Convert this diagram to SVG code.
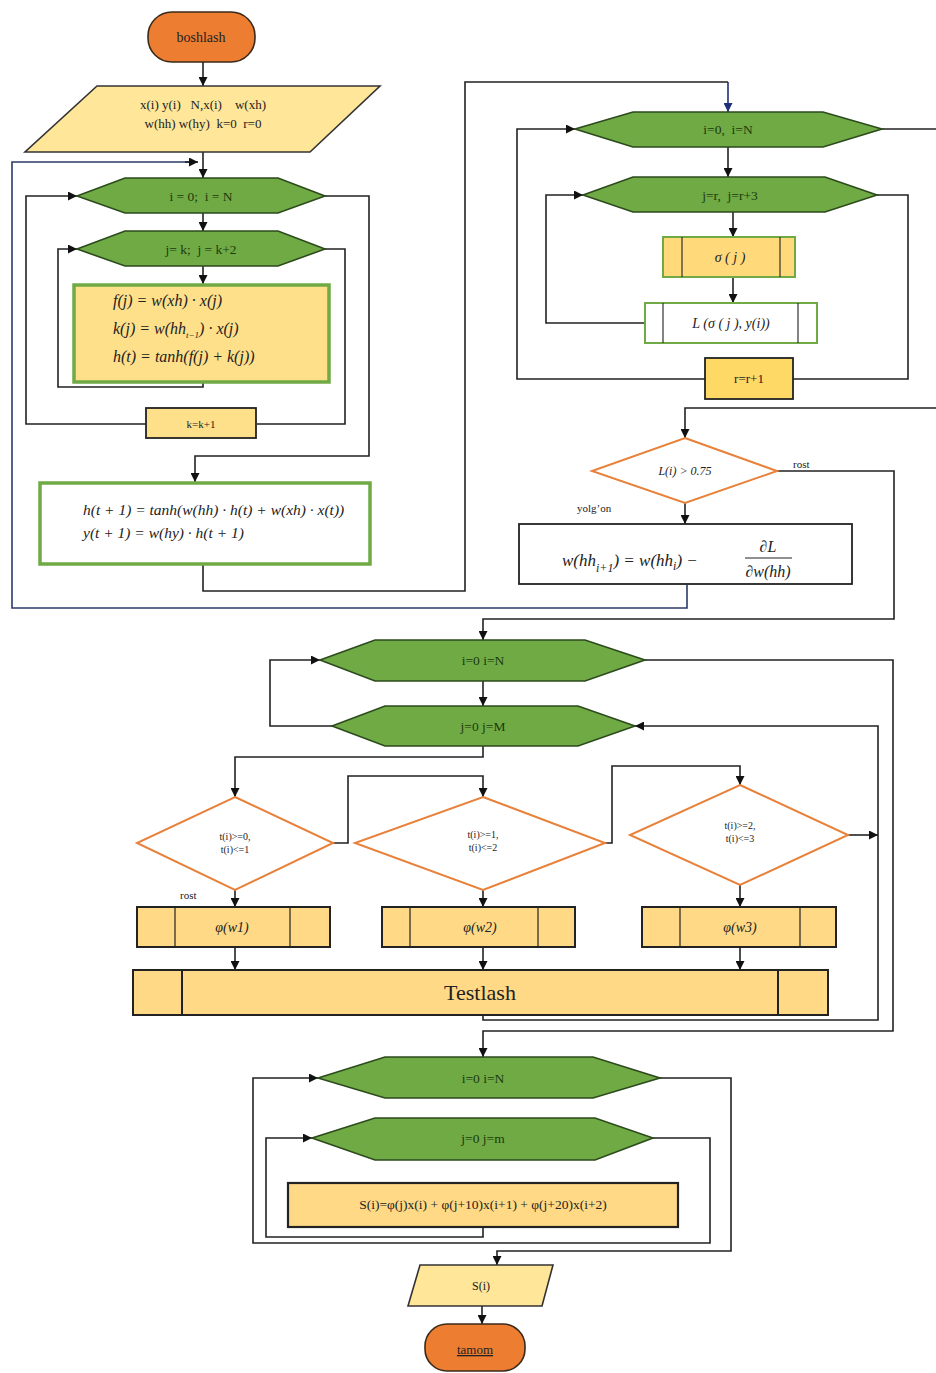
<svg xmlns="http://www.w3.org/2000/svg" width="936" height="1373" viewBox="0 0 936 1373">
<defs>
<marker id="ah" viewBox="0 0 10 10" refX="10" refY="5" markerWidth="9" markerHeight="9" markerUnits="userSpaceOnUse" orient="auto"><path d="M0,0 L10,5 L0,10 z" fill="#111"/></marker>
<marker id="ahb" viewBox="0 0 10 10" refX="10" refY="5" markerWidth="9" markerHeight="9" markerUnits="userSpaceOnUse" orient="auto"><path d="M0,0 L10,5 L0,10 z" fill="#1f2f7a"/></marker>
<style>
.c{fill:none;stroke:#222;stroke-width:1.6}
.ca{fill:none;stroke:#222;stroke-width:1.6;marker-end:url(#ah)}
.cb{fill:none;stroke:#2b3a68;stroke-width:1.6}
.term{fill:#ED7D31;stroke:#3a2a1a;stroke-width:1.6}
.io{fill:#FFE699;stroke:#333;stroke-width:1.6}
.hex{fill:#6FAA45;stroke:#2c4a1c;stroke-width:1.6}
.proc{fill:#FFD985;stroke:#222;stroke-width:2}
.dec{fill:#fff;stroke:#E8813A;stroke-width:2}
.t{font-family:"Liberation Serif","Times New Roman",serif;fill:#222}
.ht{font-family:"Liberation Serif","Times New Roman",serif;fill:#1d3a0c;font-size:13.5px}
.m{font-family:"Liberation Serif","Times New Roman",serif;font-style:italic;fill:#222}
</style>
</defs>

<g id="connectors">
<path class="ca" d="M203,62 V86"/>
<path class="ca" d="M203,152 V178"/>
<path class="cb" d="M687,585 V608 H12 V162 H192"/>
<path d="M185,162 H198" fill="none" stroke="#222" stroke-width="1.6" marker-end="url(#ah)"/>
<path class="ca" d="M203,212 V231"/>
<path class="ca" d="M203,266 V284"/>
<path class="ca" d="M203,382 V387 H58 V249 H77"/>
<path class="c" d="M325,249 H345 V424 H257"/>
<path class="ca" d="M146,424 H26 V196 H77"/>
<path class="ca" d="M325,196 H369 V456 H195 V482"/>
<path class="c" d="M203,564 V591 H465 V82 H728"/>
<path d="M728,82 V112" fill="none" stroke="#1f2f7a" stroke-width="1.6" marker-end="url(#ahb)"/>
<path class="ca" d="M728,147 V177"/>
<path class="ca" d="M733,212 V237"/>
<path class="ca" d="M733,277 V303"/>
<path class="ca" d="M645,323 H546 V195 H583"/>
<path class="c" d="M877,195 H908 V379 H793"/>
<path class="ca" d="M705,379 H517 V129 H575"/>
<path class="c" d="M882,129 H936"/>
<path class="ca" d="M936,408 H685 V438"/>
<path class="ca" d="M685,503 V524"/>
<path class="ca" d="M777,471 H894 V619 H483 V640"/>
<path class="ca" d="M483,681 V706"/>
<path class="ca" d="M332,726 H270 V660 H320"/>
<path class="ca" d="M645,660 H893 V1031 H483 V1057"/>
<path class="ca" d="M483,1015 V1020 H878 V726 H635"/>
<path class="ca" d="M848,835 H878"/>
<path class="ca" d="M483,746 V757 H235 V797"/>
<path class="ca" d="M333,843 H348 V776 H483 V797"/>
<path class="ca" d="M605,843 H612 V766 H740 V785"/>
<path class="ca" d="M235,890 V907"/>
<path class="ca" d="M483,890 V907"/>
<path class="ca" d="M740,885 V907"/>
<path class="ca" d="M235,947 V970"/>
<path class="ca" d="M483,947 V970"/>
<path class="ca" d="M740,947 V970"/>
<path class="ca" d="M653,1138 H710 V1243 H253 V1078 H318"/>
<path class="ca" d="M483,1227 V1237 H266 V1138 H312"/>
<path class="ca" d="M660,1078 H731 V1251 H497 V1265"/>
<path class="ca" d="M482,1306 V1324"/>
</g>

<g id="start">
<rect class="term" x="148" y="12" width="107" height="50" rx="24"/>
<text class="t" x="201" y="42" font-size="14" text-anchor="middle" fill="#3a1a08">boshlash</text>
</g>

<g id="input">
<polygon class="io" points="97,86 380,86 310,152 25,152"/>
<text class="t" x="203" y="109" font-size="13" text-anchor="middle" xml:space="preserve">x(i) y(i)   N,x(i)    w(xh)</text>
<text class="t" x="203" y="128" font-size="13" text-anchor="middle" xml:space="preserve">w(hh) w(hy)  k=0  r=0</text>
</g>

<g id="loop-i1">
<polygon class="hex" points="77,196 125,178 278,178 325,196 278,213 125,213"/>
<text class="ht" x="201" y="201" text-anchor="middle" xml:space="preserve">i = 0;  i = N</text>
</g>

<g id="loop-j1">
<polygon class="hex" points="77,249 125,231 278,231 325,249 278,266 125,266"/>
<text class="ht" x="201" y="254" text-anchor="middle" xml:space="preserve">j= k;  j = k+2</text>
</g>

<g id="formula1">
<rect x="74" y="285" width="255" height="97" fill="#FFE08A" stroke="#6FAA45" stroke-width="3.5"/>
<text class="m" x="113" y="306" font-size="16">f(j) = w(xh) · x(j)</text>
<text class="m" x="113" y="334" font-size="16">k(j) = w(hh<tspan font-size="9" dy="4">t−1</tspan><tspan dy="-4">) · x(j)</tspan></text>
<text class="m" x="113" y="362" font-size="16">h(t) = tanh(f(j) + k(j))</text>
</g>

<g id="k-inc">
<rect x="146" y="408" width="110" height="30" fill="#FFE08A" stroke="#222" stroke-width="1.8"/>
<text class="t" x="201" y="428" font-size="11" text-anchor="middle">k=k+1</text>
</g>

<g id="formula2">
<rect x="40" y="483" width="330" height="81" fill="#fff" stroke="#6FAA45" stroke-width="3.5"/>
<text class="m" x="83" y="515" font-size="15.5" fill="#444">h(t + 1) = tanh(w(hh) · h(t) + w(xh) · x(t))</text>
<text class="m" x="83" y="538" font-size="15.5" fill="#444">y(t + 1) = w(hy) · h(t + 1)</text>
</g>

<g id="loop-i2">
<polygon class="hex" points="575,129 633,112 823,112 882,129 823,147 633,147"/>
<text class="ht" x="728" y="134" text-anchor="middle" xml:space="preserve">i=0,  i=N</text>
</g>

<g id="loop-j2">
<polygon class="hex" points="583,195 633,177 825,177 877,195 825,212 633,212"/>
<text class="ht" x="730" y="200" text-anchor="middle" xml:space="preserve">j=r,  j=r+3</text>
</g>

<g id="sigma">
<rect x="663" y="237" width="132" height="40" fill="#FFD97A" stroke="#6FAA45" stroke-width="2"/>
<path d="M682,237 V277 M780,237 V277" stroke="#333" stroke-width="1.2"/>
<text class="m" x="730" y="262" font-size="14" text-anchor="middle">σ ( j )</text>
</g>

<g id="loss">
<rect x="645" y="303" width="172" height="40" fill="#fff" stroke="#6FAA45" stroke-width="2"/>
<path d="M663,303 V343 M798,303 V343" stroke="#333" stroke-width="1.2"/>
<text class="m" x="731" y="328" font-size="14" text-anchor="middle">L (σ ( j ), y(i))</text>
</g>

<g id="r-inc">
<rect x="705" y="358" width="88" height="41" fill="#FFD966" stroke="#222" stroke-width="1.8"/>
<text class="t" x="749" y="383" font-size="13" text-anchor="middle">r=r+1</text>
</g>

<g id="decision-L">
<polygon class="dec" points="685,438 777,471 685,503 592,471"/>
<text class="m" x="685" y="475" font-size="12" text-anchor="middle" fill="#444">L(i) &gt; 0.75</text>
<text class="t" x="793" y="468" font-size="11">rost</text>
<text class="t" x="577" y="512" font-size="11">yolg’on</text>
</g>

<g id="update-w">
<rect x="519" y="524" width="333" height="60" fill="#fff" stroke="#222" stroke-width="1.8"/>
<text class="m" x="562" y="566" font-size="17">w(hh<tspan font-size="12" dy="6">i+1</tspan><tspan dy="-6">) = w(hh</tspan><tspan font-size="12" dy="4">i</tspan><tspan dy="-4">) −</tspan></text>
<text class="m" x="768" y="552" font-size="16" text-anchor="middle">∂L</text>
<line x1="745" y1="558" x2="792" y2="558" stroke="#222" stroke-width="1"/>
<text class="m" x="768" y="577" font-size="16" text-anchor="middle">∂w(hh)</text>
</g>

<g id="loop-i3">
<polygon class="hex" points="320,660 375,640 585,640 645,660 585,681 375,681"/>
<text class="ht" x="483" y="665" text-anchor="middle">i=0 i=N</text>
</g>

<g id="loop-j3">
<polygon class="hex" points="332,726 385,706 578,706 635,726 578,746 385,746"/>
<text class="ht" x="483" y="731" text-anchor="middle">j=0 j=M</text>
</g>

<g id="dec1">
<polygon class="dec" points="235,797 333,843 235,890 137,843"/>
<text class="t" x="235" y="840" font-size="10" text-anchor="middle">t(i)&gt;=0,</text>
<text class="t" x="235" y="853" font-size="10" text-anchor="middle">t(i)&lt;=1</text>
<text class="t" x="180" y="899" font-size="11">rost</text>
</g>

<g id="dec2">
<polygon class="dec" points="483,797 605,843 483,890 355,843"/>
<text class="t" x="483" y="838" font-size="10" text-anchor="middle">t(i)&gt;=1,</text>
<text class="t" x="483" y="851" font-size="10" text-anchor="middle">t(i)&lt;=2</text>
</g>

<g id="dec3">
<polygon class="dec" points="740,785 848,835 740,885 630,835"/>
<text class="t" x="740" y="829" font-size="10" text-anchor="middle">t(i)&gt;=2,</text>
<text class="t" x="740" y="842" font-size="10" text-anchor="middle">t(i)&lt;=3</text>
</g>

<g id="phi1">
<rect class="proc" x="137" y="907" width="193" height="40"/>
<path d="M175,907 V947 M290,907 V947" stroke="#222" stroke-width="1.2"/>
<text class="m" x="232" y="932" font-size="14" text-anchor="middle">φ(w1)</text>
</g>

<g id="phi2">
<rect class="proc" x="382" y="907" width="193" height="40"/>
<path d="M410,907 V947 M538,907 V947" stroke="#222" stroke-width="1.2"/>
<text class="m" x="480" y="932" font-size="14" text-anchor="middle">φ(w2)</text>
</g>

<g id="phi3">
<rect class="proc" x="642" y="907" width="194" height="40"/>
<path d="M680,907 V947 M800,907 V947" stroke="#222" stroke-width="1.2"/>
<text class="m" x="740" y="932" font-size="14" text-anchor="middle">φ(w3)</text>
</g>

<g id="testlash">
<rect class="proc" x="133" y="970" width="695" height="45"/>
<path d="M182,970 V1015 M778,970 V1015" stroke="#222" stroke-width="2"/>
<text class="t" x="480" y="1000" font-size="22" text-anchor="middle">Testlash</text>
</g>

<g id="loop-i4">
<polygon class="hex" points="318,1078 385,1057 593,1057 660,1078 593,1098 385,1098"/>
<text class="ht" x="483" y="1083" text-anchor="middle">i=0 i=N</text>
</g>

<g id="loop-j4">
<polygon class="hex" points="312,1138 375,1118 595,1118 653,1138 595,1160 375,1160"/>
<text class="ht" x="483" y="1143" text-anchor="middle">j=0 j=m</text>
</g>

<g id="sum">
<rect x="288" y="1183" width="390" height="44" fill="#FFD985" stroke="#222" stroke-width="2.2"/>
<text class="t" x="483" y="1209" font-size="13.5" text-anchor="middle">S(i)=φ(j)x(i) + φ(j+10)x(i+1) + φ(j+20)x(i+2)</text>
</g>

<g id="output">
<polygon class="io" points="420,1265 553,1265 542,1306 408,1306"/>
<text class="t" x="481" y="1290" font-size="12" text-anchor="middle" fill="#444">S(i)</text>
</g>

<g id="end">
<rect class="term" x="425" y="1324" width="100" height="47" rx="22"/>
<text class="t" x="475" y="1354" font-size="13" text-anchor="middle" fill="#3a1a08" text-decoration="underline">tamom</text>
</g>
</svg>
